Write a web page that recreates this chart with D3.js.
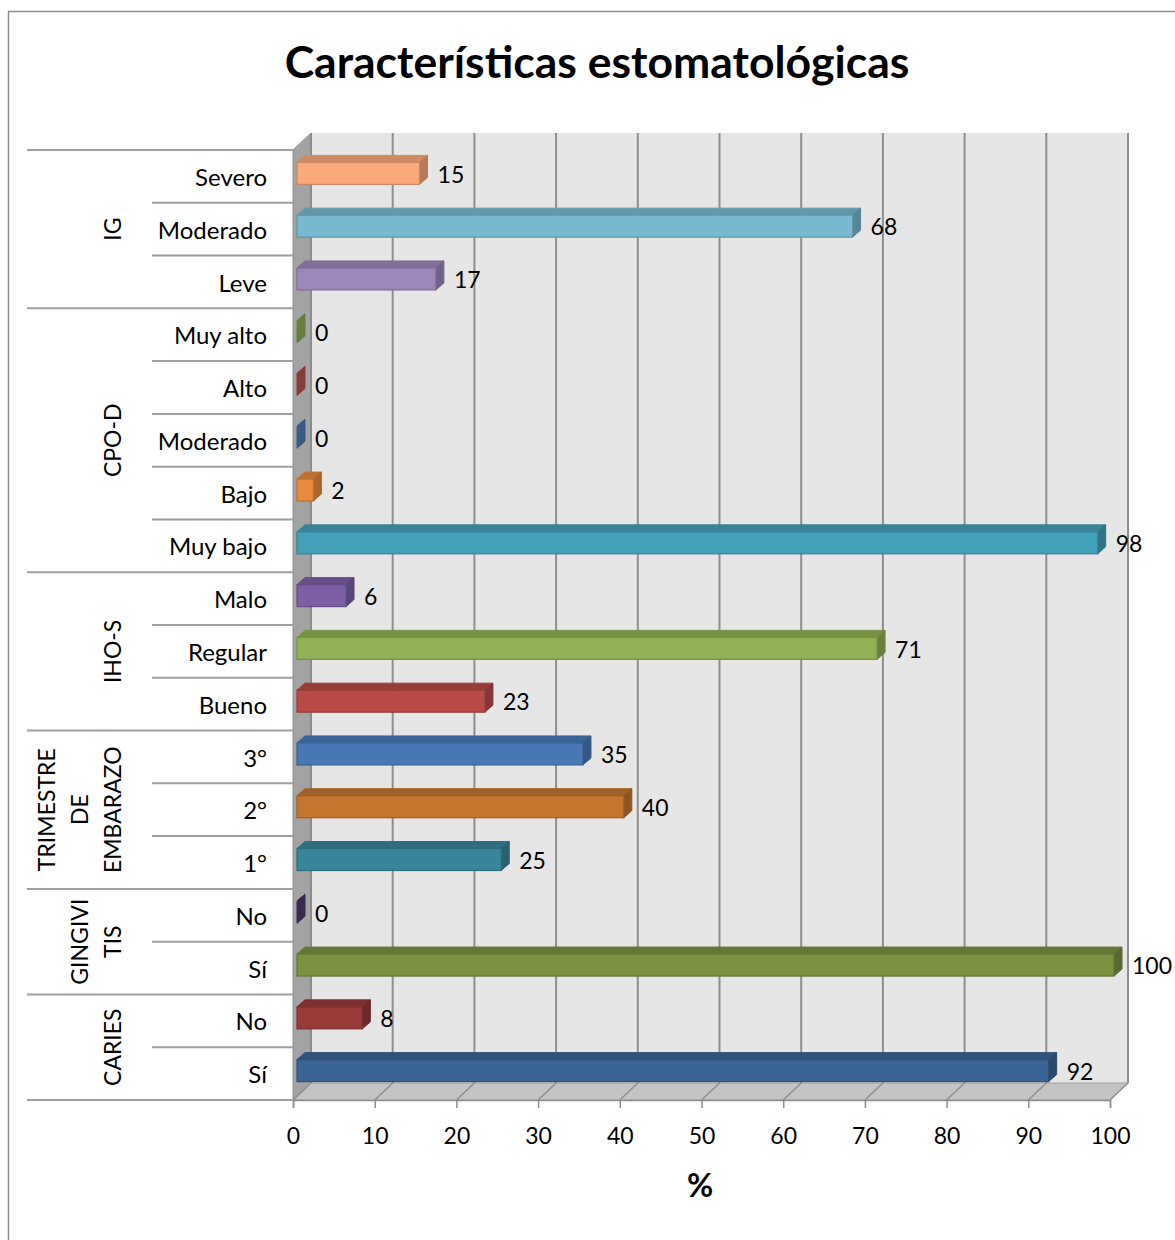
<!DOCTYPE html>
<html><head><meta charset="utf-8">
<script src="https://cdn.jsdelivr.net/npm/d3@7"></script>
<style>body{margin:0;background:#fff}svg{display:block}text{font-family:Lato,"Open Sans",sans-serif;fill:#000}</style>
</head><body>
<script>
const title = "Características estomatológicas";
const axisTitle = "%";
const categories = ["Severo","Moderado","Leve","Muy alto","Alto","Moderado","Bajo","Muy bajo","Malo","Regular","Bueno","3°","2°","1°","No","Sí","No","Sí"];
const values = [15,68,17,0,0,0,2,98,6,71,23,35,40,25,0,100,8,92];
const barColors = ["#F9A97A","#78B9CF","#9C87B8","#8DAF52","#B85450","#4F7EB5","#EA8A3C","#45A0BA","#7C5FA5","#91B254","#B84B48","#4878B5","#C47530","#388699","#4A3A72","#7A9242","#983A38","#3B6494"];
const groupLabels = [["IG"],["CPO-D"],["IHO-S"],["TRIMESTRE","DE","EMBARAZO"],["GINGIVI","TIS"],["CARIES"]];
const groupSizes = [3,5,3,3,2,2];
const xTicks = [0,10,20,30,40,50,60,70,80,90,100];

const W = 1175, H = 1240;
const svg = d3.select("body").append("svg").attr("width", W).attr("height", H);

// frame
svg.append("rect").attr("x",8.5).attr("y",11.5).attr("width",1300).attr("height",1400)
  .attr("fill","none").attr("stroke","#8c8c8c").attr("stroke-width",1.5);

const x = d3.scaleLinear().domain([0,100]).range([293,1110]);
const y = d3.scaleBand().domain(d3.range(categories.length)).range([150,1100]).padding(0);
const DX = 18, DY = -17;           // plot depth
const bDX = 8, bDY = -7;           // bar depth
const off = 4;                     // bar front offset into depth
const barH = 22;

const y0 = y.range()[0], y1 = y.range()[1];
const xl = x(0), xr = x(100);

// back wall
svg.append("rect").attr("x",xl+DX).attr("y",y0+DY).attr("width",xr-xl).attr("height",y1-y0)
  .attr("fill","#e6e6e6");
// left wall
svg.append("polygon").attr("points",[[xl,y0],[xl+DX,y0+DY],[xl+DX,y1+DY],[xl,y1]].join(" "))
  .attr("fill","#a3a3a3").attr("stroke","#8f8f8f").attr("stroke-width",1);
// floor
svg.append("polygon").attr("points",[[xl,y1],[xl+DX,y1+DY],[xr+DX,y1+DY],[xr,y1]].join(" "))
  .attr("fill","#c4c4c4").attr("stroke","#a0a0a0").attr("stroke-width",1);

// gridlines
const g = svg.append("g");
xTicks.forEach(v => {
  const xb = x(v)+DX;
  g.append("line").attr("x1",xb).attr("x2",xb).attr("y1",y0+DY).attr("y2",y1+DY)
    .attr("stroke","#8e8e8e").attr("stroke-width",2);
  g.append("line").attr("x1",xb).attr("x2",x(v)).attr("y1",y1+DY).attr("y2",y1)
    .attr("stroke","#8e8e8e").attr("stroke-width",1.5);
});
// wall edge line
svg.append("line").attr("x1",xl+DX).attr("x2",xl+DX).attr("y1",y0+DY).attr("y2",y1+DY)
  .attr("stroke","#8a8a8a").attr("stroke-width",1.5);

// x axis at front bottom edge
const xAxis = d3.axisBottom(x).tickValues(xTicks).tickSize(8).tickPadding(20).tickFormat(d3.format("d"));
const ax = svg.append("g").attr("transform",`translate(0,${y1})`).call(xAxis);
ax.select(".domain").attr("stroke","#8e8e8e").attr("stroke-width",1.5);
ax.selectAll(".tick line").attr("stroke","#8e8e8e").attr("stroke-width",1.5);
ax.selectAll(".tick text").style("font-family","Lato, sans-serif").style("font-size","23px").attr("fill","#000");

// bars
const bars = svg.append("g").selectAll("g").data(values).join("g");
bars.each(function(v,i){
  const sel = d3.select(this);
  const c = d3.color(barColors[i]);
  const top = c.darker(0.55).formatHex(), side = c.darker(0.9).formatHex(), stroke = c.darker(0.6).formatHex();
  const cy = y(i) + y.bandwidth()/2;
  const fx0 = x(0)+off, fx1 = x(v)+off;
  const fy0 = cy - off + 1 - barH/2, fy1 = fy0 + barH;
  // top face
  sel.append("polygon").attr("points",[[fx0,fy0],[fx0+bDX,fy0+bDY],[fx1+bDX,fy0+bDY],[fx1,fy0]].join(" "))
    .attr("fill",top).attr("stroke",top).attr("stroke-width",1);
  // side face
  sel.append("polygon").attr("points",[[fx1,fy0],[fx1+bDX,fy0+bDY],[fx1+bDX,fy1+bDY],[fx1,fy1]].join(" "))
    .attr("fill",side).attr("stroke",side).attr("stroke-width",1);
  // front face
  if (v > 0) sel.append("rect").attr("x",fx0).attr("y",fy0).attr("width",fx1-fx0).attr("height",barH)
    .attr("fill",barColors[i]).attr("stroke",stroke).attr("stroke-width",1.2);
  // value label
  sel.append("text").attr("x",fx1+bDX+10).attr("y",cy-2).attr("dy","0.36em")
    .style("font-size","23px").text(v);
});

// category labels
svg.append("g").selectAll("text").data(categories).join("text")
  .attr("x",267).attr("y",(d,i)=>y(i)+y.bandwidth()/2+1).attr("dy","0.36em")
  .attr("text-anchor","end").style("font-size","24px").text(d=>d);

// separators and group labels
const sep = svg.append("g");
let idx = 0;
sep.append("line").attr("x1",27).attr("x2",xl).attr("y1",y0).attr("y2",y0).attr("stroke","#a0a0a0").attr("stroke-width",2);
groupSizes.forEach((n,gi)=>{
  const start = idx, end = idx+n;
  for (let k=start+1;k<end;k++){
    sep.append("line").attr("x1",152).attr("x2",xl).attr("y1",y(k)).attr("y2",y(k)).attr("stroke","#a0a0a0").attr("stroke-width",2);
  }
  const yEnd = end < categories.length ? y(end) : y1;
  sep.append("line").attr("x1",27).attr("x2",xl).attr("y1",yEnd).attr("y2",yEnd).attr("stroke","#a0a0a0").attr("stroke-width",2);
  const cy = (y(start)+yEnd)/2;
  const lines = groupLabels[gi];
  const t = sep.append("g").attr("transform",`translate(113,${cy}) rotate(-90)`);
  lines.forEach((ln,li)=>{
    t.append("text").attr("x",0).attr("y",-(lines.length-1-li)*33).attr("dy","0.36em")
      .attr("text-anchor","middle").style("font-size","23px").text(ln);
  });
  idx = end;
});

// title
svg.append("text").attr("x",597).attr("y",78).attr("text-anchor","middle")
  .style("font-size","44.5px").style("font-weight","bold").text(title);
// axis title
svg.append("text").attr("x",700).attr("y",1197).attr("text-anchor","middle")
  .style("font-size","32px").style("font-weight","bold").text(axisTitle);
</script>
</body></html>
